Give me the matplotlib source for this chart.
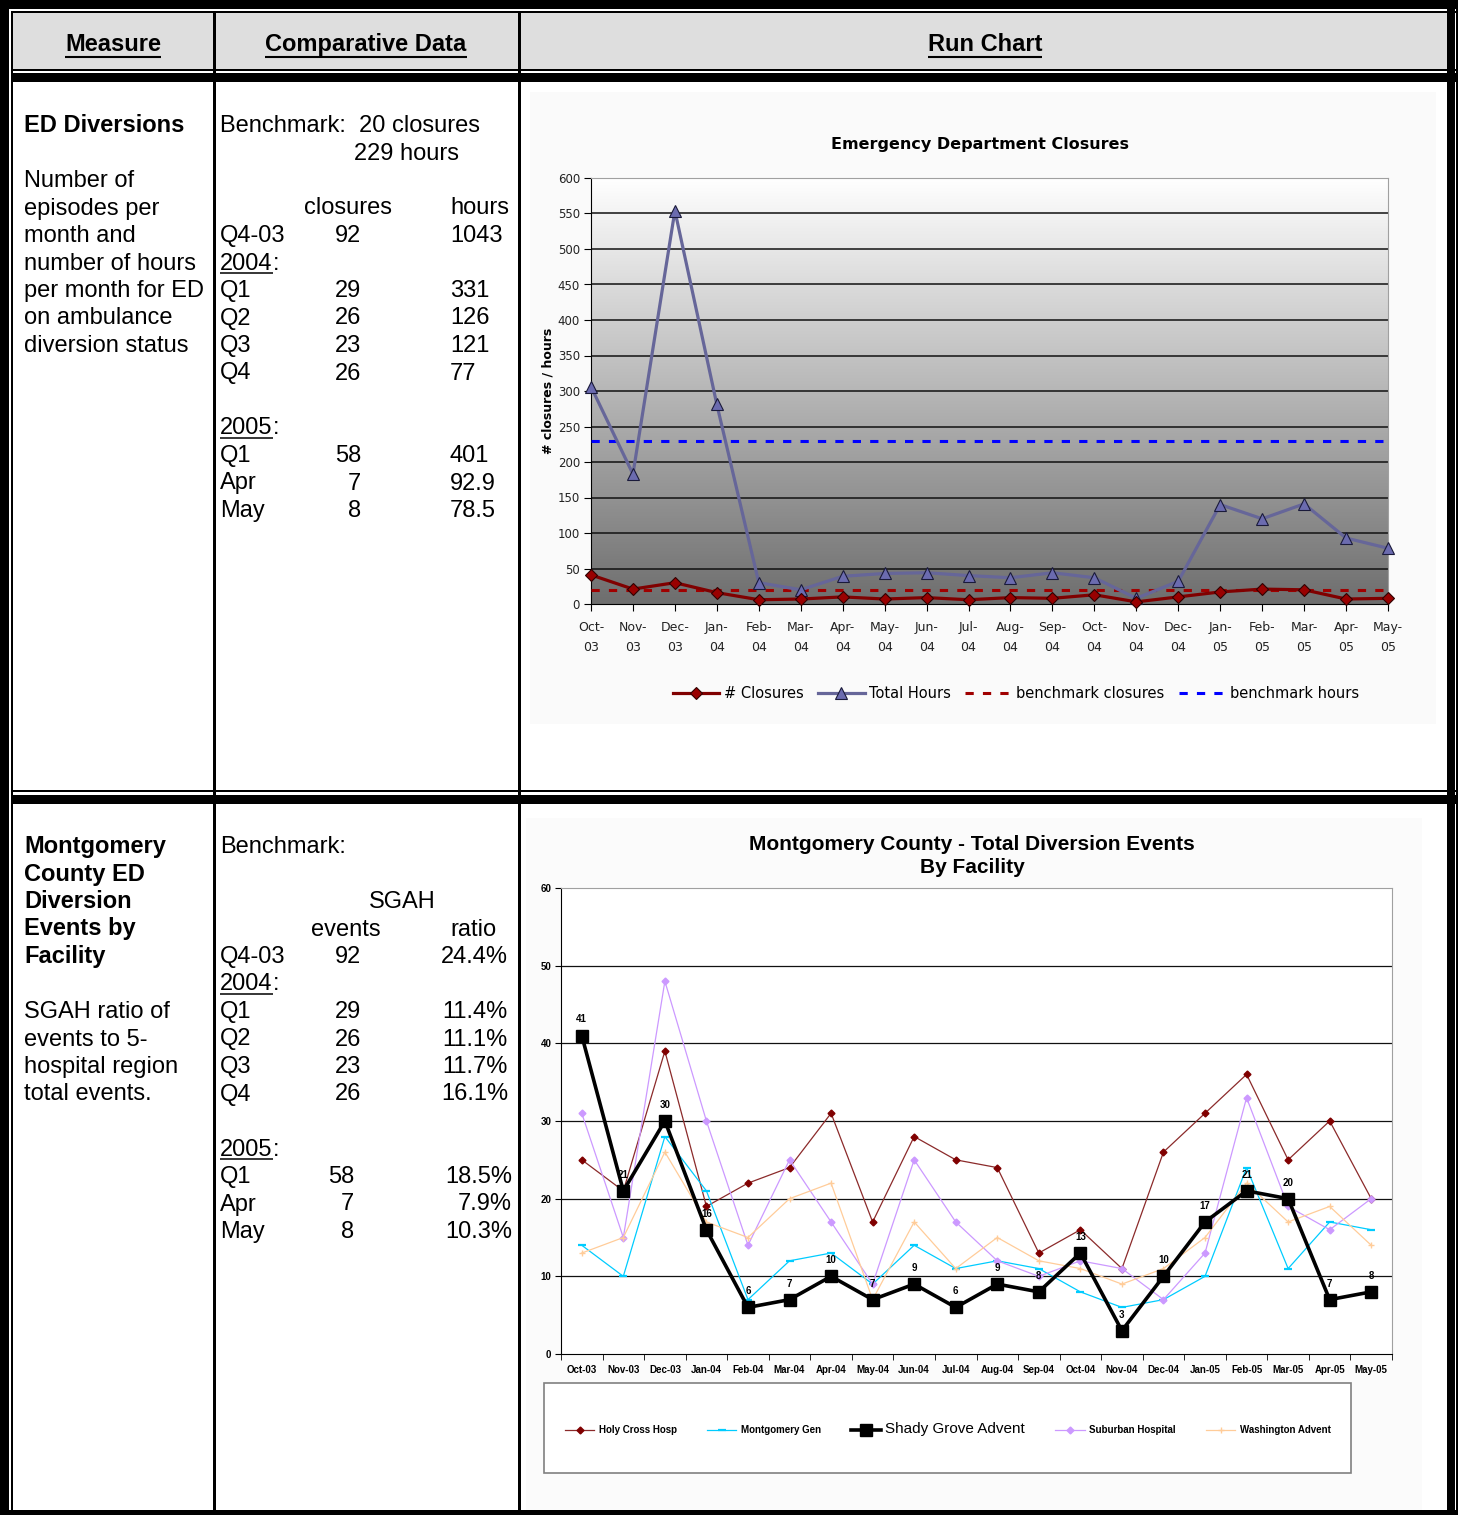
import numpy as np
import matplotlib
matplotlib.use('Agg')
import matplotlib.pyplot as plt
from matplotlib.patches import Rectangle
from matplotlib.colors import LinearSegmentedColormap

W, H = 1462, 1515

# ---- data ----
months = ['Oct-03', 'Nov-03', 'Dec-03', 'Jan-04', 'Feb-04', 'Mar-04', 'Apr-04',
          'May-04', 'Jun-04', 'Jul-04', 'Aug-04', 'Sep-04', 'Oct-04', 'Nov-04',
          'Dec-04', 'Jan-05', 'Feb-05', 'Mar-05', 'Apr-05', 'May-05']
closures = [41, 21, 30, 16, 6, 7, 10, 7, 9, 6, 9, 8, 13, 3, 10, 17, 21, 20, 7, 8]
hours = [306, 183, 554, 281, 30, 20, 39, 43, 44, 40, 37, 44, 37, 8, 32,
         140, 120, 141, 92.9, 78.5]
bench_closures = 20
bench_hours = 229

holy_cross = [25, 21, 39, 19, 22, 24, 31, 17, 28, 25, 24, 13, 16, 11, 26, 31, 36, 25, 30, 20]
mont_gen = [14, 10, 28, 21, 7, 12, 13, 9, 14, 11, 12, 11, 8, 6, 7, 10, 24, 11, 17, 16]
shady_grove = [41, 21, 30, 16, 6, 7, 10, 7, 9, 6, 9, 8, 13, 3, 10, 17, 21, 20, 7, 8]
suburban = [31, 15, 48, 30, 14, 25, 17, 9, 25, 17, 12, 10, 12, 11, 7, 13, 33, 19, 16, 20]
washington = [13, 15, 26, 17, 15, 20, 22, 7, 17, 11, 15, 12, 11, 9, 11, 15, 22, 17, 19, 14]

# table text
headers = ['Measure', 'Comparative Data', 'Run Chart']
r1_title = 'ED Diversions'
r1_desc = ['Number of', 'episodes per', 'month and', 'number of hours',
           'per month for ED', 'on ambulance', 'diversion status']
r1_periods = ['Q4-03', 'Q1', 'Q2', 'Q3', 'Q4', 'Q1', 'Apr', 'May']
r1_closures = ['92', '29', '26', '23', '26', '58', '7', '8']
r1_hours = ['1043', '331', '126', '121', '77', '401', '92.9', '78.5']

r2_title = ['Montgomery', 'County ED', 'Diversion', 'Events by', 'Facility']
r2_desc = ['SGAH ratio of', 'events to 5-', 'hospital region', 'total events.']
r2_periods = ['Q4-03', 'Q1', 'Q2', 'Q3', 'Q4', 'Q1', 'Apr', 'May']
r2_events = ['92', '29', '26', '23', '26', '58', '7', '8']
r2_ratio = ['24.4%', '11.4%', '11.1%', '11.7%', '16.1%', '18.5%', '7.9%', '10.3%']

plt.rcParams['font.family'] = 'DejaVu Sans'
TF = 'Liberation Sans'

fig = plt.figure(figsize=(W / 100, H / 100), dpi=100)
bg = fig.add_axes([0, 0, 1, 1])
bg.set_xlim(0, W)
bg.set_ylim(H, 0)
bg.axis('off')


def box(x0, y0, x1, y1, fc='black', ec='none', lw=0):
    bg.add_patch(Rectangle((x0, y0), x1 - x0, y1 - y0, facecolor=fc,
                           edgecolor=ec, linewidth=lw))


def txt(x, y, s, **kw):
    kw.setdefault('fontsize', 17)
    return bg.text(x, y, s, family=TF, va='baseline', **kw)


# table frame
box(13, 13, 1447, 70, fc='#DEDEDE')
box(530, 92, 1436, 724, fc='#FAFAFA')
box(526, 818, 1422, 1511, fc='#FBFBFB')
box(0, 0, 1458, 9)
box(0, 0, 9, H)
box(11, 11, 1458, 13)
box(11, 11, 13, H)
box(1447, 9, 1455, H)
box(1456, 9, 1458, H)
box(0, 1510, 1458, H)
box(12, 69, 1456, 71)
box(12, 73, 1456, 82)
box(12, 790, 1456, 792)
box(12, 795, 1456, 804)
box(213, 12, 216, 1511)
box(518, 12, 521, 1511)

renderer = fig.canvas.get_renderer()


def underline(t, dy, lw):
    bb = t.get_window_extent(renderer=renderer)
    y = t.get_position()[1] + dy
    bg.plot([bb.x0, bb.x1], [y, y], color='black', lw=lw, solid_capstyle='butt')


# header
for s, cx in zip(headers, [113, 366, 985]):
    t = txt(cx, 51, s, ha='center', fontweight='bold')
    underline(t, 6, 1.5)

# row 1
g1 = 132
step = 27.5
txt(24, g1, r1_title, fontweight='bold')
for i, s in enumerate(r1_desc):
    txt(24, g1 + (i + 2) * step, s)
txt(220, g1, 'Benchmark:  20 closures')
txt(354, g1 + step, '229 hours')
txt(304, g1 + 3 * step, 'closures')
txt(450, g1 + 3 * step, 'hours')
row_idx = [4, 6, 7, 8, 9, 12, 13, 14]
for yr, k in [('2004', 5), ('2005', 11)]:
    t = txt(220, g1 + k * step, yr)
    underline(t, 3, 1.1)
    bb = t.get_window_extent(renderer=renderer)
    txt(bb.x1, g1 + k * step, ':')
for p, c, h, k in zip(r1_periods, r1_closures, r1_hours, row_idx):
    y = g1 + k * step
    txt(220, y, p)
    txt(361, y, c, ha='right')
    txt(450, y, h)

# row 2
g2 = 853
for i, s in enumerate(r2_title):
    txt(24, g2 + i * step, s, fontweight='bold')
for i, s in enumerate(r2_desc):
    txt(24, g2 + (i + 6) * step, s)
txt(220, g2, 'Benchmark:')
txt(402, g2 + 2 * step, 'SGAH', ha='center')
txt(311, g2 + 3 * step, 'events')
txt(450, g2 + 3 * step, 'ratio')
for yr, k in [('2004', 5), ('2005', 11)]:
    t = txt(220, g2 + k * step, yr)
    underline(t, 3, 1.1)
    bb = t.get_window_extent(renderer=renderer)
    txt(bb.x1, g2 + k * step, ':')
for j, (p, e, r, k) in enumerate(zip(r2_periods, r2_events, r2_ratio, row_idx)):
    y = g2 + k * step
    txt(220, y, p)
    txt(361 if j < 5 else 354, y, e, ha='right')
    txt(508 if j < 5 else 512, y, r, ha='right')

x = np.arange(len(months))

# ---- top chart ----
ax1 = fig.add_axes([591 / W, 1 - 604 / H, 797 / W, 426 / H])
cmap = LinearSegmentedColormap.from_list('g', ['#6E6E6E', '#FFFFFF'])
ax1.imshow(np.linspace(0, 1, 256).reshape(-1, 1), extent=[0, len(x) - 1, 0, 600],
           origin='lower', aspect='auto', cmap=cmap, zorder=0)
ax1.set_xlim(0, len(x) - 1)
ax1.set_ylim(0, 600)
ax1.set_yticks(range(0, 601, 50))
for v in ax1.get_yticks()[1:-1]:
    ax1.axhline(v, color='#111111', lw=1.1, zorder=1)
l_bc, = ax1.plot(x, [bench_closures] * len(x), color='#A00000', lw=2.2,
                 ls=(0, (2.7, 3)), zorder=3, label='benchmark closures')
l_bh, = ax1.plot(x, [bench_hours] * len(x), color='#0000FF', lw=2.2,
                 ls=(0, (2.7, 3)), zorder=3, label='benchmark hours')
l_h, = ax1.plot(x, hours, color='#666699', lw=2.3, marker='^', ms=8,
                mfc='#6B6BAF', mec='#1A1A3A', mew=0.8, zorder=4, clip_on=False,
                label='Total Hours')
l_c, = ax1.plot(x, closures, color='#800000', lw=2.3, marker='D', ms=6,
                mfc='#990000', mec='#300000', mew=0.8, zorder=5, clip_on=False,
                label='# Closures')
for s in ['top', 'right']:
    ax1.spines[s].set_color('#A0A0A0')
for s in ['left', 'bottom']:
    ax1.spines[s].set_color('black')
ax1.tick_params(axis='y', direction='out', length=5, labelsize=8.5,
                labelcolor='#222222', pad=3)
ax1.set_xticks(x)
ax1.set_xticklabels([m.replace('-', '-\n') for m in months], linespacing=1.7)
ax1.tick_params(axis='x', direction='out', length=5, labelsize=9,
                labelcolor='#222222', pad=7)
ax1.set_ylabel('# closures / hours', fontsize=9, fontweight='bold')
ax1.yaxis.set_label_coords(-0.046, 0.5)
bg.text(980, 144, 'Emergency Department Closures', ha='center', va='center',
        fontsize=11.5, fontweight='bold')
ax1.legend([l_c, l_h, l_bc, l_bh],
           ['# Closures', 'Total Hours', 'benchmark closures', 'benchmark hours'],
           loc='center', bbox_to_anchor=(1016 / W, 1 - 694 / H),
           bbox_transform=fig.transFigure, ncol=4, frameon=False, fontsize=10.5,
           handlelength=3.2, handletextpad=0.3, columnspacing=1.0)

# ---- bottom chart ----
ax2 = fig.add_axes([561 / W, 1 - 1354 / H, 831 / W, 466 / H])
ax2.set_facecolor('white')
ax2.set_xlim(-0.5, len(x) - 0.5)
ax2.set_ylim(0, 60)
ax2.set_yticks(range(0, 61, 10))
for v in ax2.get_yticks()[1:-1]:
    ax2.axhline(v, color='#111111', lw=0.9, zorder=1)
h1, = ax2.plot(x, holy_cross, color='#8B2A2A', lw=0.9, marker='D', ms=3.5,
               mfc='#800000', mec='#800000', zorder=3, label='Holy Cross Hosp')
h2, = ax2.plot(x, mont_gen, color='#00CCFF', lw=0.9, marker='_', ms=6, mew=1.6,
               zorder=3, label='Montgomery Gen')
h4, = ax2.plot(x, suburban, color='#CC99FF', lw=0.9, marker='D', ms=3.5,
               zorder=3, label='Suburban Hospital')
h5, = ax2.plot(x, washington, color='#FFCC99', lw=0.9, marker='+', ms=5,
               zorder=3, label='Washington Advent')
h3, = ax2.plot(x, shady_grove, color='black', lw=2.6, marker='s', ms=8.5,
               zorder=5, label='Shady Grove Advent')
for i, v in enumerate(shady_grove):
    ax2.annotate(str(v), (i, v), xytext=(0, 8), textcoords='offset points',
                 ha='center', va='bottom', fontsize=7, fontweight='bold',
                 family=TF, zorder=6)
for s in ['top', 'right']:
    ax2.spines[s].set_color('#A0A0A0')
for s in ['left', 'bottom']:
    ax2.spines[s].set_color('black')
ax2.set_xticks(x)
ax2.set_xticklabels(months)
ax2.set_xticks(np.arange(-0.5, len(x), 1), minor=True)
ax2.tick_params(axis='x', which='major', length=0, pad=8)
ax2.tick_params(axis='x', which='minor', direction='out', length=4)
ax2.tick_params(axis='y', direction='out', length=4, pad=3)
for lab in ax2.get_xticklabels() + ax2.get_yticklabels():
    lab.set_family(TF)
    lab.set_fontweight('bold')
    lab.set_fontsize(7)
bg.text(972, 856, 'Montgomery County - Total Diversion Events\nBy Facility',
        ha='center', va='center', fontsize=15, fontweight='bold', family=TF,
        linespacing=1.3)
box(544, 1383, 1351, 1473, fc='white', ec='#808080', lw=1.2)
leg = ax2.legend([h1, h2, h3, h4, h5],
                 ['Holy Cross Hosp', 'Montgomery Gen', 'Shady Grove Advent',
                  'Suburban Hospital', 'Washington Advent'],
                 loc='center', bbox_to_anchor=(948 / W, 1 - 1429 / H),
                 bbox_transform=fig.transFigure, ncol=5, frameon=False,
                 prop={'family': TF, 'weight': 'bold', 'size': 7},
                 handlelength=3, handletextpad=0.5, columnspacing=3.1)
leg.get_texts()[2].set_fontsize(11)
leg.get_texts()[2].set_fontweight('normal')

fig.savefig('out.png', dpi=100)
